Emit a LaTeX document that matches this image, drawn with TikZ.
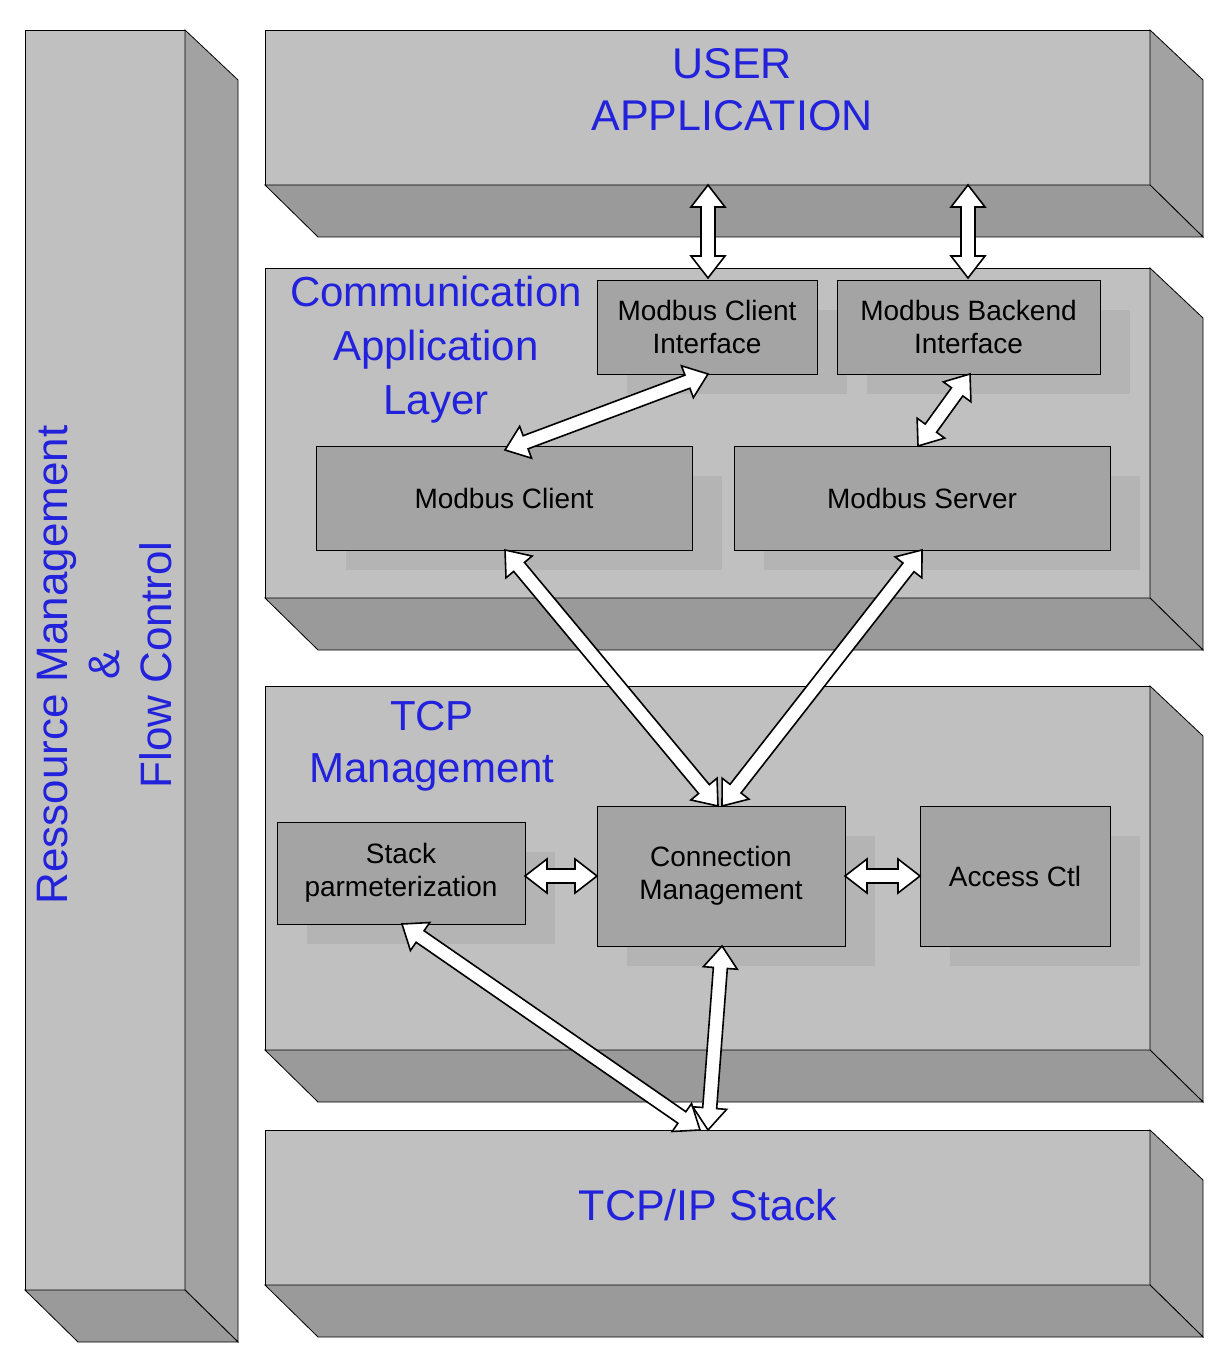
\documentclass[tikz,border=0pt]{standalone}
\usepackage{fontspec}
\setmainfont{Liberation Sans}
\usetikzlibrary{calc}
\definecolor{front}{HTML}{C0C0C0}
\definecolor{side}{HTML}{A2A2A2}
\definecolor{inner}{HTML}{A4A4A4}
\definecolor{shad}{HTML}{B4B4B4}
\definecolor{tblue}{HTML}{2222DD}
\newcommand{\slab}[4]{% x1,y1,x2,y2 front face
  \fill[front,draw=black] (#1,#2) rectangle (#3,#4);
  \filldraw[fill=side,draw=black] (#3,#2) -- (#3+53,#2+50) -- (#3+53,#4+52) -- (#3,#4) -- cycle;
  \filldraw[fill=side!95!black,draw=black] (#1,#4) -- (#3,#4) -- (#3+53,#4+52) -- (#1+53,#4+52) -- cycle;}
\newcommand{\ibox}[6]{% name,x1,y1,x2,y2,text
  \fill[shad] (#2+30,#3+30) rectangle (#4+30,#5+20);
  \node[draw=black,fill=inner,minimum width={(#4-#2)*0.5pt},minimum height={(#5-#3)*0.5pt},inner sep=0pt,align=center,font=\fontsize{14}{16.5}\selectfont] (#1) at ({(#2+#4)/2},{(#3+#5)/2}) {#6};}
\newcommand{\dbl}[2]{%
  \filldraw[fill=white,draw=black,line width=0.8pt] let \p1=($(#2)-(#1)$), \n1={veclen(\x1,\y1)}, \n2={atan2(\y1,\x1)} in
   ([shift={(#1)},rotate=\n2]0pt,0pt) -- ([shift={(#1)},rotate=\n2]11pt,8.5pt) -- ([shift={(#1)},rotate=\n2]11pt,3.5pt)
   -- ([shift={(#1)},rotate=\n2]\n1-11pt,3.5pt) -- ([shift={(#1)},rotate=\n2]\n1-11pt,8.5pt) -- ([shift={(#1)},rotate=\n2]\n1,0pt)
   -- ([shift={(#1)},rotate=\n2]\n1-11pt,-8.5pt) -- ([shift={(#1)},rotate=\n2]\n1-11pt,-3.5pt) -- ([shift={(#1)},rotate=\n2]11pt,-3.5pt)
   -- ([shift={(#1)},rotate=\n2]11pt,-8.5pt) -- cycle;}
\begin{document}
\begin{tikzpicture}[x=0.5pt,y=-0.5pt,title/.style={text=tblue,align=center,font=\fontsize{21.5}{26}\selectfont}]
\useasboundingbox[fill=white] (0,0) rectangle (1229,1368);
\slab{25}{30}{185}{1290}
\slab{265}{30}{1150}{185}
\slab{265}{268}{1150}{598}
\slab{265}{686}{1150}{1050}
\slab{265}{1130}{1150}{1285}
\node[title,rotate=90,font=\fontsize{22}{26}\selectfont] (rm) at (105,665) {Ressource Management\\\&\\Flow Control};
\node[title] (ua) at (732,90) {USER\\APPLICATION};
\node[title,font=\fontsize{21}{27}\selectfont] (cal) at (436,350) {Communication\\Application\\Layer};
\node[title,font=\fontsize{21}{26}\selectfont] (tm) at (432,746) {TCP\\Management};
\node[title] (tcp) at (708,1205) {TCP/IP Stack};
\ibox{mci}{597}{280}{817}{374}{Modbus Client\\Interface}
\ibox{mbi}{837}{280}{1100}{374}{Modbus Backend\\Interface}
\ibox{mc}{316}{446}{692}{550}{Modbus Client}
\ibox{ms}{734}{446}{1110}{550}{Modbus Server}
\ibox{sp}{277}{822}{525}{924}{Stack\\parmeterization}
\ibox{cm}{597}{806}{845}{946}{Connection\\Management}
\ibox{ac}{920}{806}{1110}{946}{Access Ctl}
\coordinate (ua1) at (708,185); \coordinate (ua2) at (968,185);
\coordinate (mci1) at (708,278); \coordinate (mbi1) at (968,278);
\coordinate (mci2) at (708,374); \coordinate (mc1) at (505,450);
\coordinate (mbi2) at (970,374); \coordinate (ms1) at (918,446);
\coordinate (mc2) at (505,550); \coordinate (cm1) at (718,806);
\coordinate (ms2) at (922,550); \coordinate (cm2) at (722,806);
\coordinate (sp1) at (525,876); \coordinate (cm3) at (597,876);
\coordinate (cm4) at (845,876); \coordinate (ac1) at (920,876);
\coordinate (sp2) at (402,924); \coordinate (tcp1) at (700,1130);
\coordinate (cm5) at (722,946); \coordinate (tcp2) at (708,1130);
\dbl{ua1}{mci1}
\dbl{ua2}{mbi1}
\dbl{mci2}{mc1}
\dbl{mbi2}{ms1}
\dbl{mc2}{cm1}
\dbl{ms2}{cm2}
\dbl{sp1}{cm3}
\dbl{cm4}{ac1}
\dbl{sp2}{tcp1}
\dbl{cm5}{tcp2}
\end{tikzpicture}
\end{document}
